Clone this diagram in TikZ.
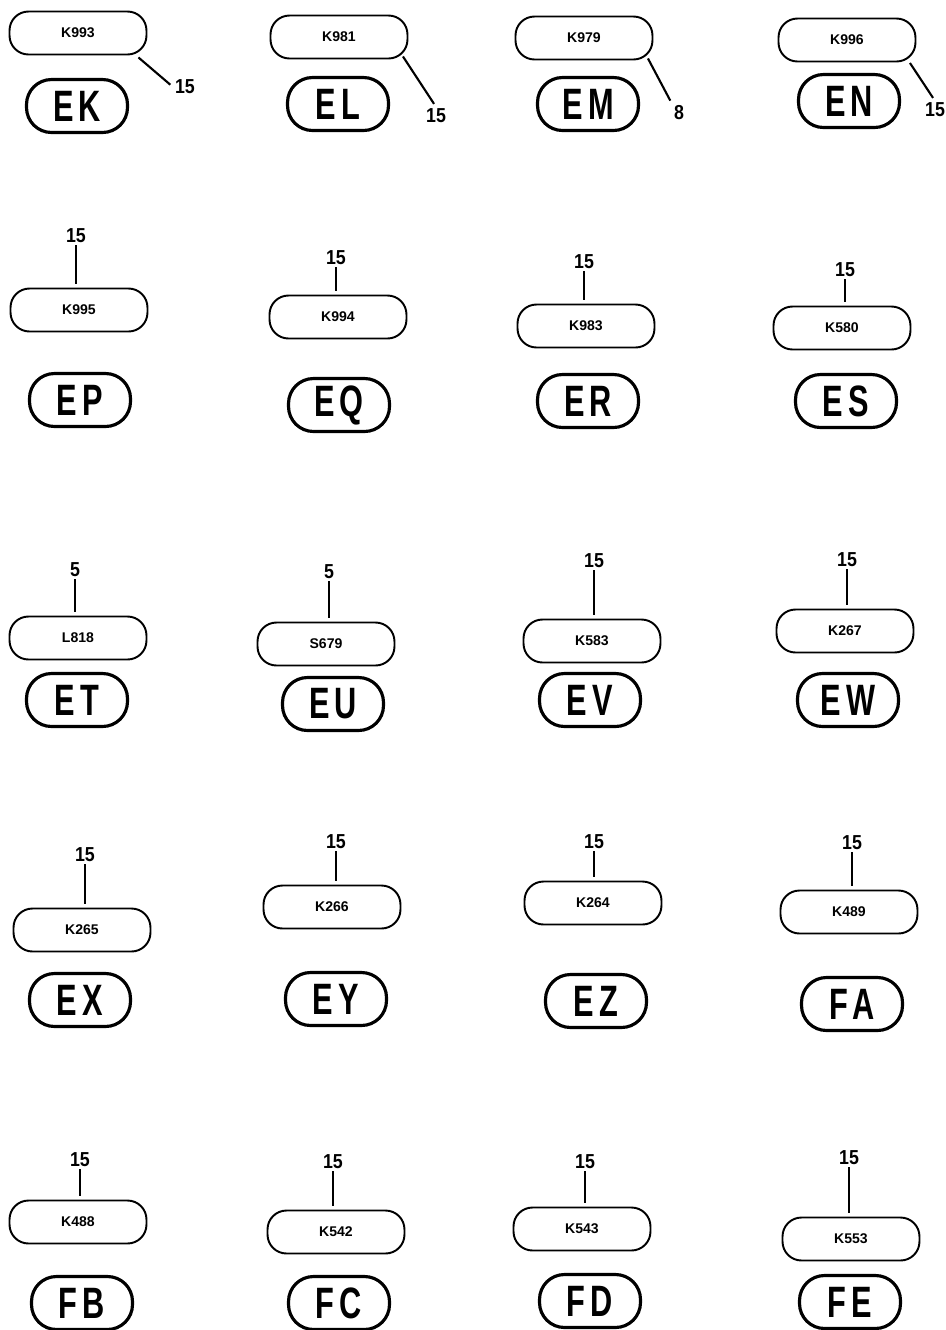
\documentclass[tikz,border=0pt]{standalone}
\usepackage{fontspec}
\setmainfont{Liberation Sans}
\newfontfamily\pillfont[FakeStretch=0.7,LetterSpace=12]{Liberation Sans}
\newfontfamily\tagfont[FakeStretch=0.88]{Liberation Sans}
\usetikzlibrary{calc}
\tikzset{partbox/.style={draw, line width=1.1pt, rounded corners=0.38cm, minimum width=2.74cm, minimum height=0.86cm, inner sep=0pt, font=\fontsize{8}{9}\selectfont\bfseries}}
\tikzset{codepill/.style={draw, line width=1.8pt, rounded corners=0.5cm, minimum width=2.02cm, minimum height=1.06cm, inner sep=0pt, font=\pillfont\fontsize{25}{25}\selectfont\bfseries}}
\tikzset{qty/.style={inner sep=1pt, font=\tagfont\fontsize{11.5}{12}\selectfont\bfseries}}
\tikzset{leader/.style={line width=1.2pt, shorten >=2pt}}

\begin{document}
\begin{tikzpicture}[x=0.02cm, y=-0.02cm]
  \useasboundingbox (0,0) rectangle (946,1330);

  % Fila 1: cantidades al lado
  \node[partbox] (k993) at (78,33) {K993};
  \node[codepill] (ek) at (77,106) {EK};
  \node[qty] (qek) at (185,87) {15};
  \draw[leader] ($(k993.south east)+(-9,2)$) -- (qek.west);

  \node[partbox] (k981) at (339,37) {K981};
  \node[codepill] (el) at (338,104) {EL};
  \node[qty] (qel) at (436,116) {15};
  \draw[leader] ($(k981.south east)+(-5.5,-3)$) -- (qel.north);

  \node[partbox] (k979) at (584,38) {K979};
  \node[codepill] (em) at (588,104) {EM};
  \node[qty] (qem) at (679,113) {8};
  \draw[leader] ($(k979.south east)+(-5.5,-2)$) -- (qem.north west);

  \node[partbox] (k996) at (847,40) {K996};
  \node[codepill] (en) at (849,101) {EN};
  \node[qty] (qen) at (935,110) {15};
  \draw[leader] ($(k996.south east)+(-6.5,0.5)$) -- (qen.north);

  % Fila 2
  \node[qty] (qep) at (76,236) {15};
  \node[partbox] (k995) at (79,310) {K995};
  \node[codepill] (ep) at (80,400) {EP};
  \draw[leader] (qep.south) -- (qep.south |- k995.north);

  \node[qty] (qeq) at (336,258) {15};
  \node[partbox] (k994) at (338,317) {K994};
  \node[codepill] (eq) at (339,405) {EQ};
  \draw[leader] (qeq.south) -- (qeq.south |- k994.north);

  \node[qty] (qer) at (584,262) {15};
  \node[partbox] (k983) at (586,326) {K983};
  \node[codepill] (er) at (588,401) {ER};
  \draw[leader] (qer.south) -- (qer.south |- k983.north);

  \node[qty] (qes) at (845,270) {15};
  \node[partbox] (k580) at (842,328) {K580};
  \node[codepill] (es) at (846,401) {ES};
  \draw[leader] (qes.south) -- (qes.south |- k580.north);

  % Fila 3
  \node[qty] (qet) at (75,570) {5};
  \node[partbox] (l818) at (78,638) {L818};
  \node[codepill] (et) at (77,700) {ET};
  \draw[leader] (qet.south) -- (qet.south |- l818.north);

  \node[qty] (qeu) at (329,572) {5};
  \node[partbox] (s679) at (326,644) {S679};
  \node[codepill] (eu) at (333,704) {EU};
  \draw[leader] (qeu.south) -- (qeu.south |- s679.north);

  \node[qty] (qev) at (594,561) {15};
  \node[partbox] (k583) at (592,641) {K583};
  \node[codepill] (ev) at (590,700) {EV};
  \draw[leader] (qev.south) -- (qev.south |- k583.north);

  \node[qty] (qew) at (847,560) {15};
  \node[partbox] (k267) at (845,631) {K267};
  \node[codepill] (ew) at (848,700) {EW};
  \draw[leader] (qew.south) -- (qew.south |- k267.north);

  % Fila 4
  \node[qty] (qex) at (85,855) {15};
  \node[partbox] (k265) at (82,930) {K265};
  \node[codepill] (ex) at (80,1000) {EX};
  \draw[leader] (qex.south) -- (qex.south |- k265.north);

  \node[qty] (qey) at (336,842) {15};
  \node[partbox] (k266) at (332,907) {K266};
  \node[codepill] (ey) at (336,999) {EY};
  \draw[leader] (qey.south) -- (qey.south |- k266.north);

  \node[qty] (qez) at (594,842) {15};
  \node[partbox] (k264) at (593,903) {K264};
  \node[codepill] (ez) at (596,1001) {EZ};
  \draw[leader] (qez.south) -- (qez.south |- k264.north);

  \node[qty] (qfa) at (852,843) {15};
  \node[partbox] (k489) at (849,912) {K489};
  \node[codepill] (fa) at (852,1004) {FA};
  \draw[leader] (qfa.south) -- (qfa.south |- k489.north);

  % Fila 5
  \node[qty] (qfb) at (80,1160) {15};
  \node[partbox] (k488) at (78,1222) {K488};
  \node[codepill] (fb) at (82,1303) {FB};
  \draw[leader] (qfb.south) -- (qfb.south |- k488.north);

  \node[qty] (qfc) at (333,1162) {15};
  \node[partbox] (k542) at (336,1232) {K542};
  \node[codepill] (fc) at (339,1303) {FC};
  \draw[leader] (qfc.south) -- (qfc.south |- k542.north);

  \node[qty] (qfd) at (585,1162) {15};
  \node[partbox] (k543) at (582,1229) {K543};
  \node[codepill] (fd) at (590,1301) {FD};
  \draw[leader] (qfd.south) -- (qfd.south |- k543.north);

  \node[qty] (qfe) at (849,1158) {15};
  \node[partbox] (k553) at (851,1239) {K553};
  \node[codepill] (fe) at (850,1302) {FE};
  \draw[leader] (qfe.south) -- (qfe.south |- k553.north);
\end{tikzpicture}
\end{document}
